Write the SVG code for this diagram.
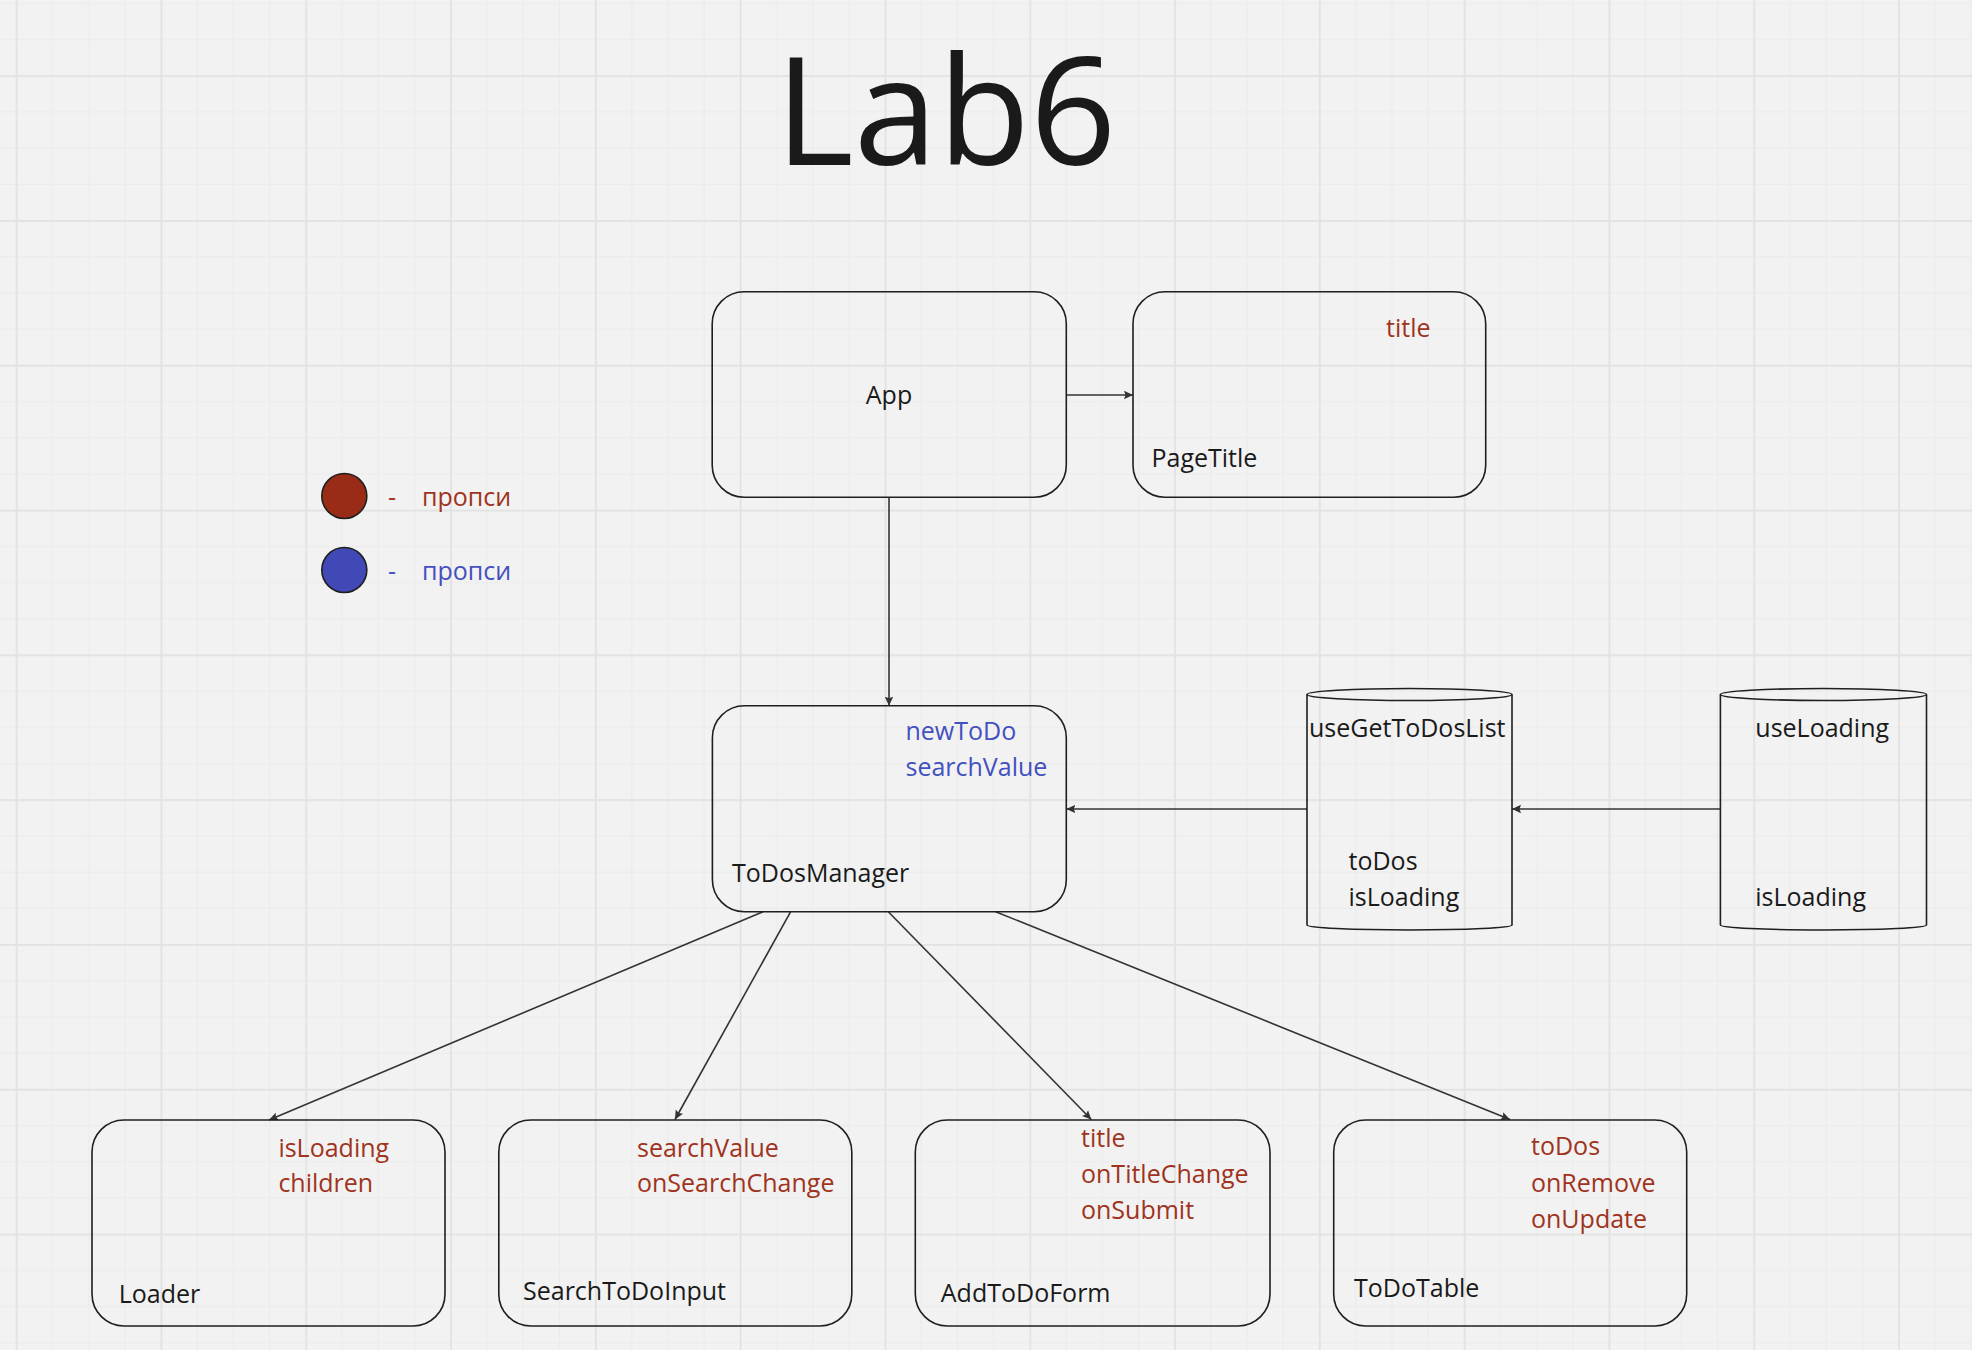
<svg xmlns="http://www.w3.org/2000/svg" width="1972" height="1350" viewBox="0 0 1972 1350">
<defs>
<pattern id="grid" patternUnits="userSpaceOnUse" x="15.7" y="75.2" width="144.8" height="144.8">
<rect x="36.2" y="0" width="1.2" height="144.8" fill="#ececec"/>
<rect x="72.4" y="0" width="1.2" height="144.8" fill="#ececec"/>
<rect x="108.6" y="0" width="1.2" height="144.8" fill="#ececec"/>
<rect x="0" y="36.2" width="144.8" height="1.2" fill="#ececec"/>
<rect x="0" y="72.4" width="144.8" height="1.2" fill="#ececec"/>
<rect x="0" y="108.6" width="144.8" height="1.2" fill="#ececec"/>
<rect x="0" y="0" width="1.8" height="144.8" fill="#e2e2e2"/>
<rect x="0" y="0" width="144.8" height="1.8" fill="#e2e2e2"/>
</pattern>
<marker id="arr" markerUnits="userSpaceOnUse" markerWidth="12" markerHeight="12" refX="9" refY="5" orient="auto">
<path d="M0,0.8 L9,5 L0,9.2 L1.5,5 Z" fill="#333333"/>
</marker>
<style>
.box{fill:none;stroke:#1f1f1f;stroke-width:1.6}
.conn{fill:none;stroke:#333333;stroke-width:1.6}
text{font-family:"Open Sans","Noto Sans","DejaVu Sans",sans-serif;font-size:25px;fill:#1a1a1a}
.red{fill:#9f3320}
.blue{fill:#4350c0}
</style>
</defs>
<rect width="1972" height="1350" fill="#f2f2f2"/>
<rect width="1972" height="1350" fill="url(#grid)"/>

<text id="title" x="775" y="165" style="font-size:151px">Lab6</text>

<g id="legend">
<circle cx="344.3" cy="496" r="22.5" fill="#992b17" stroke="#1f1f1f" stroke-width="1.6"/>
<text x="388" y="506" class="red">-</text>
<text x="422" y="506" class="red">пропси</text>
<circle cx="344.3" cy="570" r="22.5" fill="#4049b5" stroke="#1f1f1f" stroke-width="1.6"/>
<text x="388" y="580" class="blue">-</text>
<text x="422" y="580" class="blue">пропси</text>
</g>

<g id="connectors">
<line class="conn" x1="1066.3" y1="395" x2="1133" y2="395" marker-end="url(#arr)"/>
<line class="conn" x1="889" y1="497.3" x2="889" y2="705.7" marker-end="url(#arr)"/>
<line class="conn" x1="1307" y1="809" x2="1066.3" y2="809" marker-end="url(#arr)"/>
<line class="conn" x1="1720.4" y1="809" x2="1512" y2="809" marker-end="url(#arr)"/>
<line class="conn" x1="763" y1="911.7" x2="269" y2="1120" marker-end="url(#arr)"/>
<line class="conn" x1="790.7" y1="911.7" x2="675" y2="1119.5" marker-end="url(#arr)"/>
<line class="conn" x1="888.3" y1="911.7" x2="1091.3" y2="1119.5" marker-end="url(#arr)"/>
<line class="conn" x1="995.6" y1="911.7" x2="1510" y2="1119.5" marker-end="url(#arr)"/>
</g>

<g id="App">
<rect class="box" x="712.2" y="291.7" width="354.1" height="205.6" rx="32" ry="32"/>
<text x="889" y="404" text-anchor="middle">App</text>
</g>

<g id="PageTitle">
<rect class="box" x="1133" y="291.7" width="352.7" height="205.6" rx="32" ry="32"/>
<text x="1386" y="336.7" class="red">title</text>
<text x="1151.5" y="466.7">PageTitle</text>
</g>

<g id="ToDosManager">
<rect class="box" x="712.4" y="705.7" width="353.9" height="206" rx="32" ry="32"/>
<text x="905.5" y="740" class="blue">newToDo</text>
<text x="905.5" y="776" class="blue">searchValue</text>
<text x="732" y="881.7">ToDosManager</text>
</g>

<g id="useGetToDosList">
<path class="box" d="M1307,694.5 L1307,925 A102.5,5 0 0 0 1512,925 L1512,694.5"/>
<ellipse class="box" cx="1409.5" cy="694.5" rx="102.5" ry="6"/>
<text x="1309" y="737.3">useGetToDosList</text>
<text x="1348.5" y="869.5">toDos</text>
<text x="1348.5" y="905.7">isLoading</text>
</g>

<g id="useLoading">
<path class="box" d="M1720.4,694.5 L1720.4,925 A103,5 0 0 0 1926.5,925 L1926.5,694.5"/>
<ellipse class="box" cx="1823.45" cy="694.5" rx="103.05" ry="6"/>
<text x="1755.3" y="737.3">useLoading</text>
<text x="1755.3" y="905.7">isLoading</text>
</g>

<g id="Loader">
<rect class="box" x="92" y="1120" width="353" height="206" rx="32" ry="32"/>
<text x="278.4" y="1156.7" class="red">isLoading</text>
<text x="278.4" y="1191.7" class="red">children</text>
<text x="118.7" y="1302.7">Loader</text>
</g>

<g id="SearchToDoInput">
<rect class="box" x="498.8" y="1120" width="353" height="206" rx="32" ry="32"/>
<text x="637" y="1156.7" class="red">searchValue</text>
<text x="637" y="1191.7" class="red">onSearchChange</text>
<text x="523" y="1300">SearchToDoInput</text>
</g>

<g id="AddToDoForm">
<rect class="box" x="915.3" y="1120" width="354.7" height="206" rx="32" ry="32"/>
<text x="1081" y="1146.7" class="red">title</text>
<text x="1081" y="1183.3" class="red">onTitleChange</text>
<text x="1081" y="1219.3" class="red">onSubmit</text>
<text x="940.8" y="1302.3">AddToDoForm</text>
</g>

<g id="ToDoTable">
<rect class="box" x="1333.7" y="1120" width="353" height="206" rx="32" ry="32"/>
<text x="1531" y="1155" class="red">toDos</text>
<text x="1531" y="1191.7" class="red">onRemove</text>
<text x="1531" y="1227.7" class="red">onUpdate</text>
<text x="1354" y="1297.3">ToDoTable</text>
</g>
</svg>
